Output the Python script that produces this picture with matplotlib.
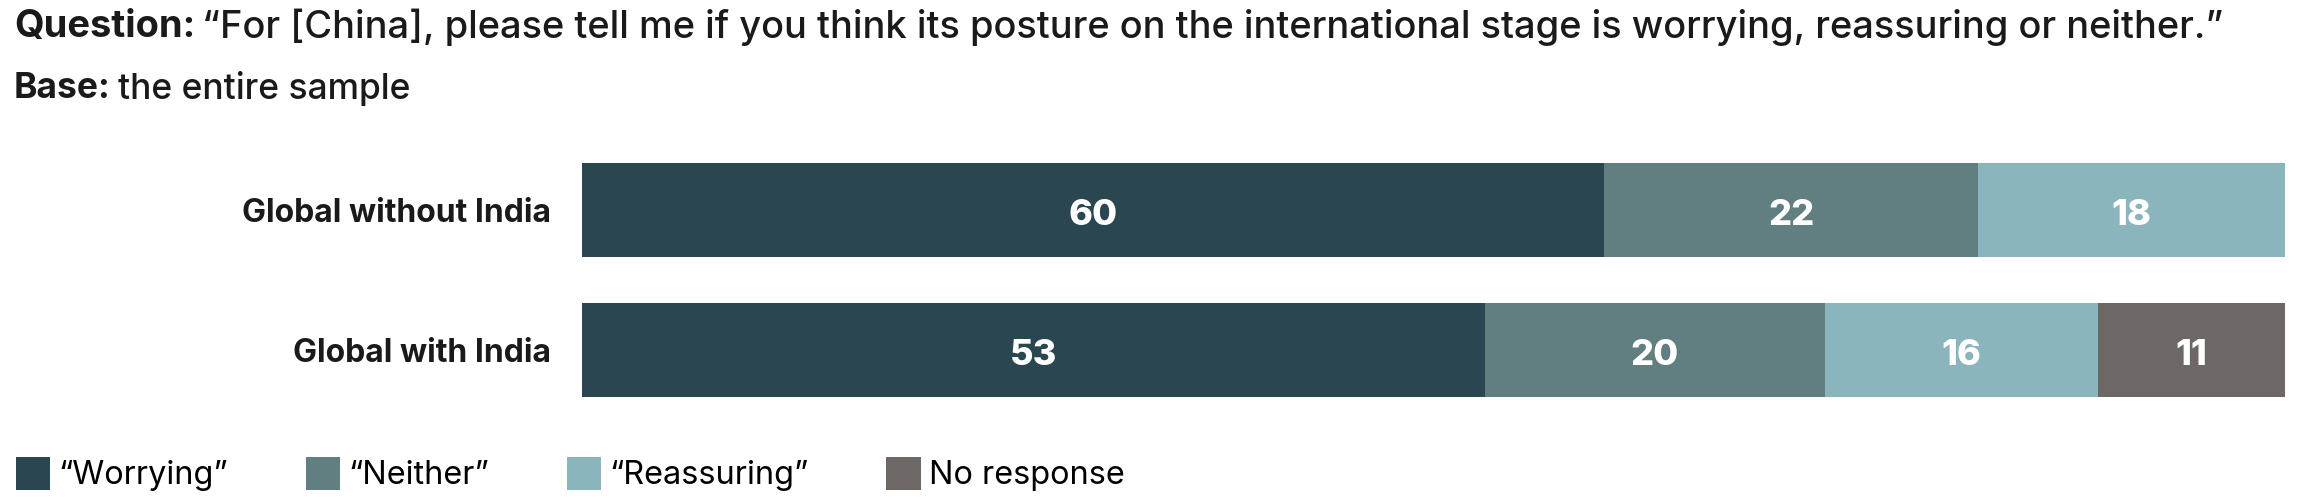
import matplotlib
matplotlib.use("Agg")
import matplotlib.pyplot as plt
from matplotlib.patches import Patch

categories = ["Global without India", "Global with India"]
series_names = ["\u201cWorrying\u201d", "\u201cNeither\u201d", "\u201cReassuring\u201d", "No response"]
worrying = [60, 53]
neither = [22, 20]
reassuring = [18, 16]
no_response = [0, 11]
colors = ["#2A4651", "#617E80", "#8BB5BD", "#6D6865"]

FONT = "Inter"
plt.rcParams["font.family"] = [FONT, "DejaVu Sans"]

fig = plt.figure(figsize=(23, 5.03), dpi=100)
ax = fig.add_axes([582 / 2300, (503 - 420) / 503, (2285 - 582) / 2300, (420 - 140) / 503])

series = [worrying, neither, reassuring, no_response]
ypos = list(range(len(categories)))
left = [0] * len(categories)
for vals, col in zip(series, colors):
    bars = ax.barh(ypos, vals, left=left, color=col, height=0.665, edgecolor="none")
    for b, v in zip(bars, vals):
        if v > 0:
            ax.text(b.get_x() + b.get_width() / 2, b.get_y() + b.get_height() / 2 + 0.04, f"{v}",
                    ha="center", va="center", color="white", fontsize=26, fontweight="heavy")
    left = [l + v for l, v in zip(left, vals)]

ax.set_xlim(0, 100)
ax.set_ylim(1.5, -0.5)
ax.set_yticks(ypos)
ax.set_yticklabels(categories, fontsize=23, fontweight="bold", color="#1a1a1a")
ax.tick_params(axis="y", length=0, pad=22)
ax.set_xticks([])
for s in ax.spines.values():
    s.set_visible(False)

# Title (mixed bold / regular)
fig.canvas.draw()
renderer = fig.canvas.get_renderer()

def mixed(x, y, bold, rest, size):
    t1 = fig.text(x, y, bold, fontsize=size, fontweight="bold", color="#1a1a1a", va="center", ha="left")
    bb = t1.get_window_extent(renderer=renderer)
    x2 = bb.x1 / fig.bbox.width + 7 / 2300
    fig.text(x2, y, rest, fontsize=size, fontweight="medium", color="#1a1a1a", va="center", ha="left")

mixed(14 / 2300, 1 - 27 / 503, "Question:",
      "\u201cFor [China], please tell me if you think its posture on the international stage is worrying, reassuring or neither.\u201d", 27.4)
mixed(14 / 2300, 1 - 89 / 503, "Base:", "the entire sample", 25.5)

handles = [Patch(facecolor=c, edgecolor="none", label=n) for c, n in zip(colors, series_names)]
fig.legend(handles=handles, loc="center left", bbox_to_anchor=(3 / 2300, 1 - 474 / 503), ncol=4,
           frameon=False, fontsize=23.4, handlelength=1.05, handleheight=1.2, handletextpad=0.25,
           columnspacing=2.4, borderaxespad=0)

fig.savefig("out.png", dpi=100, facecolor="white")
